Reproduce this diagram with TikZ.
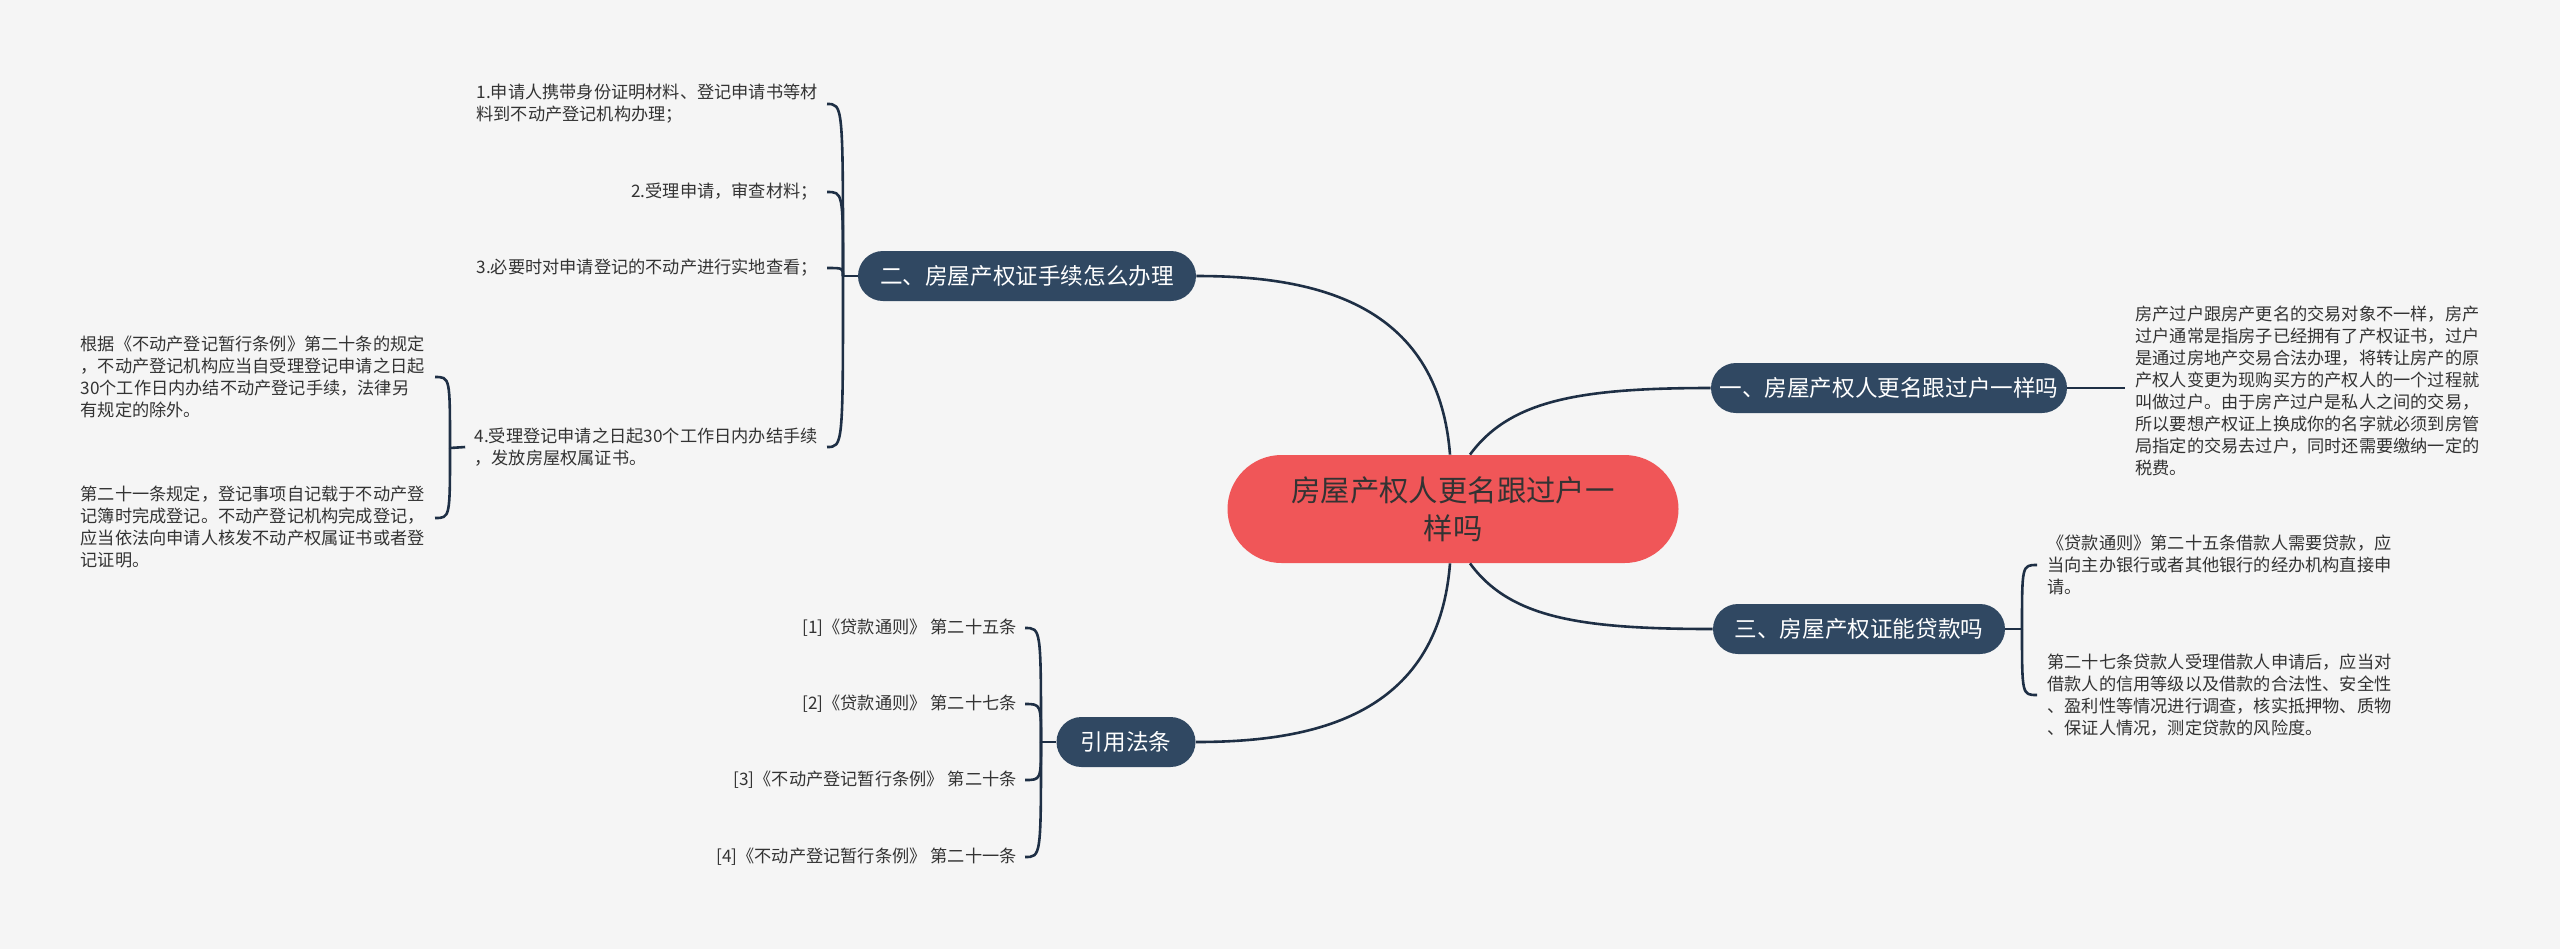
\documentclass[tikz,border=0pt]{standalone}
\usepackage{fontspec}
\newfontfamily\cjk{Noto Sans CJK SC}
\usetikzlibrary{shapes.misc}
\definecolor{bg}{HTML}{F5F5F5}
\definecolor{navy}{HTML}{304862}
\definecolor{linec}{HTML}{1E2F45}
\definecolor{centred}{HTML}{F05658}
\definecolor{txt}{HTML}{333333}
\begin{document}
\begin{tikzpicture}[x=0.5pt,y=-0.5pt,
  link/.style={draw=linec, line width=1.3pt},
  centernode/.style={rounded rectangle, fill=centred, minimum width=225.5pt, minimum height=54pt, inner sep=0pt, align=center, text=txt, font=\cjk\fontsize{14.7pt}{19pt}\selectfont},
  branch/.style={rounded rectangle, fill=navy, minimum height=25pt, inner sep=0pt, text=white, font=\cjk\fontsize{11.3pt}{14pt}\selectfont},
  leaf/.style={inner xsep=4.5pt, inner ysep=0pt, text=txt, font=\cjk\fontsize{8.6pt}{11pt}\selectfont, align=left},
]
\fill[bg] (0,0) rectangle (2560,949);
\useasboundingbox (0,0) rectangle (2560,949);

% central and branch nodes
\node[centernode] (c) at (1453,509) {房屋产权人更名跟过户一\\样吗};
\node[branch, minimum width=178pt] (b1) at (1889,388) {一、房屋产权人更名跟过户一样吗};
\node[branch, minimum width=169pt] (b2) at (1027,276) {二、房屋产权证手续怎么办理};
\node[branch, minimum width=146pt] (b3) at (1859,629) {三、房屋产权证能贷款吗};
\node[branch, minimum width=69.5pt] (b4) at (1126,742) {引用法条};

\draw[link] ([xshift=8.5pt]c.north) .. controls (1510,400) and (1580,388) .. (b1.west);
\draw[link] ([xshift=-1.5pt]c.north) .. controls (1438,300) and (1310,276) .. (b2.east);
\draw[link] ([xshift=8.5pt]c.south) .. controls (1510,618) and (1580,629) .. (b3.west);
\draw[link] ([xshift=-1.5pt]c.south) .. controls (1438,718) and (1310,742) .. (b4.east);

% branch 1
\node[leaf, anchor=west, inner xsep=5pt] (r1) at (2125,391) {房产过户跟房产更名的交易对象不一样，房产\\过户通常是指房子已经拥有了产权证书，过户\\是通过房地产交易合法办理，将转让房产的原\\产权人变更为现购买方的产权人的一个过程就\\叫做过户。由于房产过户是私人之间的交易，\\所以要想产权证上换成你的名字就必须到房管\\局指定的交易去过户，同时还需要缴纳一定的\\税费。};
\draw[link] (b1.east) -- (b1.east -| r1.west);

% branch 2
\coordinate (s2) at (843,276);
\draw[link] (b2.west) -- (s2);
\node[leaf, anchor=east] (a1) at (827,104) {1.申请人携带身份证明材料、登记申请书等材\\料到不动产登记机构办理；};
\node[leaf, anchor=east] (a2) at (827,192) {2.受理申请，审查材料；};
\node[leaf, anchor=east] (a3) at (827,268) {3.必要时对申请登记的不动产进行实地查看；};
\node[leaf, anchor=east] (a4) at (827,447) {4.受理登记申请之日起30个工作日内办结手续\\，发放房屋权属证书。};
\foreach \n in {a1,a2,a3,a4}{
  \draw[link] (s2) .. controls (s2 |- \n.east) and (s2 |- \n.east) .. (\n.east);
}

% children of item 4
\coordinate (s4a) at (450,448);
\draw[link] (a4.west) -- (s4a);
\node[leaf, anchor=east, inner xsep=5pt] (k1) at (435,377) {根据《不动产登记暂行条例》第二十条的规定\\，不动产登记机构应当自受理登记申请之日起\\30个工作日内办结不动产登记手续，法律另\\有规定的除外。};
\node[leaf, anchor=east, inner xsep=5pt] (k2) at (435,527) {第二十一条规定，登记事项自记载于不动产登\\记簿时完成登记。不动产登记机构完成登记，\\应当依法向申请人核发不动产权属证书或者登\\记证明。};
\coordinate (k2h) at ([yshift=4.5pt]k2.east);
\draw[link] (s4a) .. controls (s4a |- k1.east) and (s4a |- k1.east) .. (k1.east);
\draw[link] (s4a) .. controls (s4a |- k2h) and (s4a |- k2h) .. (k2h);

% branch 3
\coordinate (s3) at (2022,629);
\draw[link] (b3.east) -- (s3);
\node[leaf, anchor=west, inner xsep=5pt] (d1) at (2037,565) {《贷款通则》第二十五条借款人需要贷款，应\\当向主办银行或者其他银行的经办机构直接申\\请。};
\node[leaf, anchor=west, inner xsep=5pt] (d2) at (2037,695) {第二十七条贷款人受理借款人申请后，应当对\\借款人的信用等级以及借款的合法性、安全性\\、盈利性等情况进行调查，核实抵押物、质物\\、保证人情况，测定贷款的风险度。};
\foreach \n in {d1,d2}{
  \draw[link] (s3) .. controls (s3 |- \n.west) and (s3 |- \n.west) .. (\n.west);
}

% branch 4
\coordinate (s5) at (1041,742);
\draw[link] (b4.west) -- (s5);
\node[leaf, anchor=east, inner xsep=4pt] (e1) at (1025,628) {[1]《贷款通则》 第二十五条};
\node[leaf, anchor=east, inner xsep=4pt] (e2) at (1025,704) {[2]《贷款通则》 第二十七条};
\node[leaf, anchor=east, inner xsep=4pt] (e3) at (1025,780) {[3]《不动产登记暂行条例》 第二十条};
\node[leaf, anchor=east, inner xsep=4pt] (e4) at (1025,857) {[4]《不动产登记暂行条例》 第二十一条};
\foreach \n in {e1,e2,e3,e4}{
  \draw[link] (s5) .. controls (s5 |- \n.east) and (s5 |- \n.east) .. (\n.east);
}
\end{tikzpicture}
\end{document}
